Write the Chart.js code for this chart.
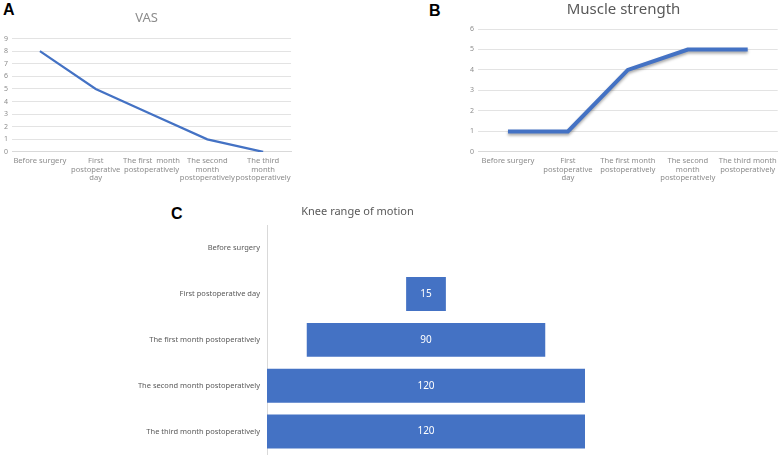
<!DOCTYPE html>
<html>
<head>
<meta charset="utf-8">
<script src="https://cdn.jsdelivr.net/npm/chart.js@4"></script>
<style>
  body { margin: 0; background: #fff; width: 782px; height: 455px; position: relative; overflow: hidden; }
  .box { position: absolute; }
  .tag { position: absolute; font-family: "Liberation Sans", Arial, sans-serif; font-weight: bold; font-size: 16px; color: #000; }
</style>
</head>
<body>
<div class="tag" style="left:3px;top:1px;">A</div>
<div class="tag" style="left:429px;top:2px;">B</div>
<div class="tag" style="left:171px;top:205px;">C</div>
<div class="box" style="left:0px;top:0px;width:296px;height:187px;"><canvas id="vas"></canvas></div>
<div class="box" style="left:468px;top:0px;width:314px;height:187px;"><canvas id="muscle"></canvas></div>
<div class="box" style="left:130px;top:200px;width:462px;height:266px;"><canvas id="knee"></canvas></div>
<script>
const stages = ["Before surgery", "First postoperative day", "The first month postoperatively", "The second month postoperatively", "The third month postoperatively"];
const vasLabels = ["Before surgery", ["First", "postoperative", "day"], ["The first  month", "postoperatively"], ["The second", "month", "postoperatively"], ["The third", "month", "postoperatively"]];
const muscleLabels = ["Before surgery", ["First", "postoperative", "day"], ["The first month", "postoperatively"], ["The second", "month", "postoperatively"], ["The third month", "postoperatively"]];
const vasValues = [8, 5, 3, 1, 0];
const muscleValues = [1, 1, 4, 5, 5];
const kneeValues = [0, 15, 90, 120, 120];

const blue = "#4472c4";
const font = "'Noto Sans', 'DejaVu Sans', sans-serif";
Chart.defaults.font.family = font;
Chart.defaults.animation = false;
Chart.defaults.maintainAspectRatio = false;
Chart.defaults.responsive = true;

function lineOptions(title, titleSize, titleColor, titlePad, yMax, yWidth, labels) {
  return {
    layout: { padding: { left: 0, right: 3, bottom: 0 } },
    plugins: {
      legend: { display: false },
      tooltip: { enabled: false },
      title: {
        display: true,
        text: title,
        color: titleColor,
        font: { size: titleSize, weight: "normal" },
        padding: titlePad,
      },
    },
    scales: {
      x: {
        offset: true,
        grid: { display: false, drawTicks: false },
        border: { color: "#d9d9d9" },
        ticks: {
          color: "#8c8c8c",
          font: { size: 7.6, lineHeight: 1.1 },
          maxRotation: 0,
          autoSkip: false,
          padding: 5,
          callback: (v, i) => labels[i],
        },
      },
      y: {
        min: 0,
        max: yMax,
        afterFit: (s) => { s.width = yWidth; },
        grid: { color: "#e3e3e3", drawTicks: false },
        border: { display: false },
        ticks: { stepSize: 1, color: "#8c8c8c", font: { size: 7 }, padding: 4 },
      },
    },
  };
}

const shadow = {
  id: "shadow",
  beforeDatasetsDraw(chart) {
    const c = chart.ctx;
    c.save();
    c.shadowColor = "rgba(0,0,0,0.35)";
    c.shadowBlur = 3;
    c.shadowOffsetY = 2;
  },
  afterDatasetsDraw(chart) {
    chart.ctx.restore();
  },
};

new Chart(document.getElementById("vas"), {
  type: "line",
  data: {
    labels: stages,
    datasets: [{ data: vasValues, borderColor: blue, borderWidth: 2.2, pointRadius: 0, tension: 0 }],
  },
  options: lineOptions("VAS", 13, "#8c8c8c", { top: 10, bottom: 13 }, 9, 12, vasLabels),
});

new Chart(document.getElementById("muscle"), {
  type: "line",
  data: {
    labels: stages,
    datasets: [{ data: muscleValues, borderColor: blue, borderWidth: 4, pointRadius: 0, tension: 0 }],
  },
  options: lineOptions("Muscle strength", 15, "#595959", { top: 1, bottom: 10 }, 6, 10, muscleLabels),
  plugins: [shadow],
});

const barText = {
  id: "barText",
  afterDatasetsDraw(chart) {
    const c = chart.ctx;
    const meta = chart.getDatasetMeta(0);
    c.save();
    c.fillStyle = "#fff";
    c.font = "10px " + font;
    c.textAlign = "center";
    c.textBaseline = "middle";
    meta.data.forEach((bar, i) => {
      if (!kneeValues[i]) return;
      const p = bar.getProps(["x", "base", "y"], true);
      c.fillText(String(kneeValues[i]), (p.x + p.base) / 2, p.y);
    });
    c.restore();
  },
};

new Chart(document.getElementById("knee"), {
  type: "bar",
  data: {
    labels: stages,
    datasets: [{
      data: kneeValues.map(v => [-v / 2, v / 2]),
      backgroundColor: blue,
      categoryPercentage: 0.74,
      barPercentage: 1,
    }],
  },
  options: {
    indexAxis: "y",
    layout: { padding: { right: 7 } },
    plugins: {
      legend: { display: false },
      tooltip: { enabled: false },
      title: {
        display: true,
        text: "Knee range of motion",
        color: "#595959",
        font: { size: 11, weight: "normal" },
        padding: { top: 5, bottom: 7 },
      },
    },
    scales: {
      x: { display: false, min: -60, max: 60 },
      y: {
        afterFit: (s) => { s.width = 137; },
        grid: { display: false, drawTicks: false },
        border: { color: "#d9d9d9" },
        ticks: { color: "#595959", font: { size: 7.5 }, padding: 7, autoSkip: false },
      },
    },
  },
  plugins: [barText],
});
</script>
</body>
</html>
